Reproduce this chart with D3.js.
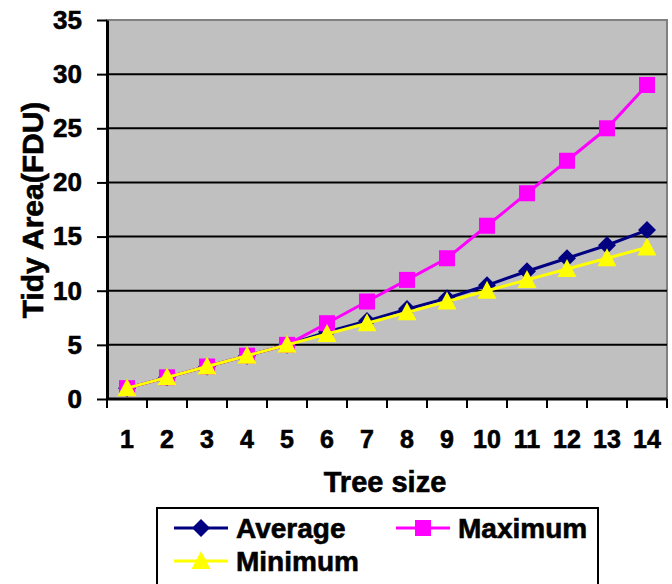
<!DOCTYPE html>
<html>
<head>
<meta charset="utf-8">
<script src="https://cdn.jsdelivr.net/npm/d3@7"></script>
<style>
  html, body { margin: 0; padding: 0; background: #fff; }
  svg { display: block; font-family: Arial, "Liberation Sans", sans-serif; font-weight: bold; }
  .lbl { stroke: #000; stroke-width: 0.6px; fill: #000; }
</style>
</head>
<body>
<svg id="chart" width="672" height="584"></svg>
<script>
// Tree sizes along the x axis
const categories = ["1","2","3","4","5","6","7","8","9","10","11","12","13","14"];
// Tidy area per tree size
const averageValues = [1, 2, 3, 4, 5, 6.2, 7.2, 8.3, 9.3, 10.5, 11.8, 13.0, 14.2, 15.6];
const maximumValues = [1, 2, 3, 4, 5, 7, 9, 11, 13, 16, 19, 22, 25, 29];
const minimumValues = [1, 2, 3, 4, 5, 6, 7, 8, 9, 10, 11, 12, 13, 14];
const yTicks = [0, 5, 10, 15, 20, 25, 30, 35];

const series = [
  { name: "Average", values: averageValues, color: "#000080", shape: "diamond" },
  { name: "Maximum", values: maximumValues, color: "#FF00FF", shape: "square" },
  { name: "Minimum", values: minimumValues, color: "#FFFF00", shape: "triangle" }
];

const svg = d3.select("#chart");
const plotLeft = 107, plotRight = 667, plotTop = 20, plotBottom = 399;

const x = d3.scaleBand().domain(categories).range([plotLeft, plotRight]);
const y = d3.scaleLinear().domain([0, 35]).range([plotBottom, plotTop]);

// Plot area
svg.append("rect")
  .attr("x", plotLeft).attr("y", plotTop)
  .attr("width", plotRight - plotLeft).attr("height", plotBottom - plotTop)
  .attr("fill", "#C0C0C0")
  .attr("stroke", "#808080").attr("stroke-width", 2);

// Horizontal gridlines
svg.append("g").selectAll("line")
  .data(yTicks.filter(t => t > 0 && t < 35))
  .join("line")
  .attr("x1", plotLeft).attr("x2", plotRight)
  .attr("y1", d => y(d)).attr("y2", d => y(d))
  .attr("stroke", "#000").attr("stroke-width", 2);

// Y axis
const yAxis = svg.append("g")
  .attr("transform", `translate(${plotLeft},0)`)
  .call(d3.axisLeft(y).tickValues(yTicks).tickSize(10).tickPadding(15).tickSizeOuter(0));
yAxis.select(".domain").attr("stroke", "#000").attr("stroke-width", 3);
yAxis.selectAll(".tick line").attr("stroke", "#000").attr("stroke-width", 2);
yAxis.selectAll("text").attr("class", "lbl").attr("font-size", 26).attr("font-weight", "bold")
  .attr("font-family", "Arial, 'Liberation Sans', sans-serif");

// X axis: labels at category centres, tick marks at band boundaries
const xAxis = svg.append("g")
  .attr("transform", `translate(0,${plotBottom})`)
  .call(d3.axisBottom(x).tickSize(0).tickSizeOuter(0));
xAxis.select(".domain").remove();
xAxis.selectAll("text").attr("class", "lbl").attr("y", 49).attr("dy", 0)
  .attr("font-size", 25).attr("font-weight", "bold")
  .attr("font-family", "Arial, 'Liberation Sans', sans-serif");

const boundaries = categories.map(c => x(c)).concat([x(categories[categories.length - 1]) + x.bandwidth()]);
svg.append("g").selectAll("line")
  .data(boundaries)
  .join("line")
  .attr("x1", d => d).attr("x2", d => d)
  .attr("y1", plotBottom).attr("y2", plotBottom + 9)
  .attr("stroke", "#000").attr("stroke-width", 2);
svg.append("line")
  .attr("x1", plotLeft - 1).attr("x2", plotRight)
  .attr("y1", plotBottom).attr("y2", plotBottom)
  .attr("stroke", "#000").attr("stroke-width", 3);

// Axis titles
svg.append("text")
  .attr("class", "lbl")
  .attr("x", 385).attr("y", 492)
  .attr("text-anchor", "middle")
  .attr("font-size", 29)
  .text("Tree size");
svg.append("text")
  .attr("class", "lbl")
  .attr("transform", "translate(43,210) rotate(-90)")
  .attr("text-anchor", "middle")
  .attr("font-size", 30)
  .text("Tidy Area(FDU)");

// Marker shapes
function marker(sel, shape, color) {
  if (shape === "diamond") {
    sel.append("path").attr("d", "M0,-9L9,0L0,9L-9,0Z").attr("fill", color);
  } else if (shape === "square") {
    sel.append("rect").attr("x", -8).attr("y", -8).attr("width", 16).attr("height", 16).attr("fill", color);
  } else {
    sel.append("path").attr("d", "M0,-10L9.5,8L-9.5,8Z").attr("fill", color);
  }
}

const cx = c => x(c) + x.bandwidth() / 2;
const line = d3.line().x((d, i) => cx(categories[i])).y(d => y(d));

series.forEach(s => {
  const g = svg.append("g");
  g.append("path")
    .datum(s.values)
    .attr("d", line)
    .attr("fill", "none")
    .attr("stroke", s.color)
    .attr("stroke-width", 3);
  g.selectAll("g.pt")
    .data(s.values)
    .join("g")
    .attr("class", "pt")
    .attr("transform", (d, i) => `translate(${cx(categories[i])},${y(d)})`)
    .each(function () { marker(d3.select(this), s.shape, s.color); });
});

// Legend
const legend = svg.append("g");
legend.append("rect")
  .attr("x", 157).attr("y", 508)
  .attr("width", 441).attr("height", 90)
  .attr("fill", "#fff").attr("stroke", "#000").attr("stroke-width", 2);
const legendPos = [
  { x: 174, y: 528 },
  { x: 396, y: 528 },
  { x: 174, y: 561 }
];
series.forEach((s, i) => {
  const p = legendPos[i];
  const g = legend.append("g").attr("transform", `translate(${p.x},${p.y})`);
  g.append("line").attr("x1", 0).attr("x2", 54).attr("y1", 0).attr("y2", 0)
    .attr("stroke", s.color).attr("stroke-width", 3);
  const m = g.append("g").attr("transform", "translate(27,0)");
  marker(m, s.shape, s.color);
  g.append("text").attr("class", "lbl").attr("x", 62).attr("y", 10)
    .attr("font-size", 28).text(s.name);
});
</script>
</body>
</html>
